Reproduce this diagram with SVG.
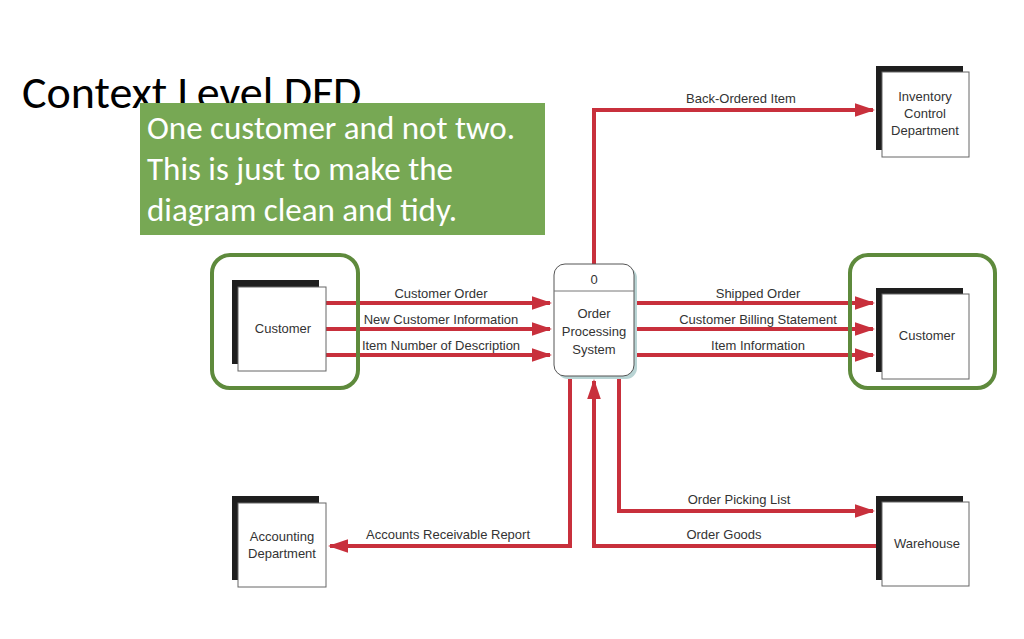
<svg xmlns="http://www.w3.org/2000/svg" width="1024" height="639" viewBox="0 0 1024 639">
<style>
.sh{fill:#1e1e1e}.bx{fill:#fff;stroke:#666;stroke-width:1}
.t{font-family:"Liberation Sans",Arial,sans-serif;font-size:13px;fill:#333;text-anchor:middle}
.l{font-family:"Liberation Sans",Arial,sans-serif;font-size:13px;fill:#333;text-anchor:middle}
.f{fill:none;stroke:#c8303c;stroke-width:4}
.g{fill:none;stroke:#5e8a3c;stroke-width:4}
</style>
<defs><marker id="a" markerWidth="5" markerHeight="4" refX="4.5" refY="2" orient="auto" markerUnits="strokeWidth"><path d="M0,0.3 L5,2 L0,3.7 z" fill="#c8303c"/></marker></defs>
<rect width="1024" height="639" fill="#fff"/>
<text x="22" y="108" font-family="Carlito,'Liberation Sans',sans-serif" font-size="46" fill="#000">Context Level DFD</text>
<g id="connectors">
<path class="f" marker-end="url(#a)" d="M326,303 H550"/>
<path class="f" marker-end="url(#a)" d="M326,329 H550"/>
<path class="f" marker-end="url(#a)" d="M326,355 H550"/>
<path class="f" marker-end="url(#a)" d="M634,303 H873"/>
<path class="f" marker-end="url(#a)" d="M634,329 H873"/>
<path class="f" marker-end="url(#a)" d="M634,355 H873"/>
<path class="f" marker-end="url(#a)" d="M594,264 V110 H873"/>
<path class="f" marker-end="url(#a)" d="M619,376 V511 H873"/>
<path class="f" marker-end="url(#a)" d="M882,546 H594 V381"/>
<path class="f" marker-end="url(#a)" d="M570,376 V546 H330"/>
<text class="l" x="441" y="298">Customer Order</text>
<text class="l" x="441" y="324">New Customer Information</text>
<text class="l" x="441" y="350">Item Number of Description</text>
<text class="l" x="758" y="298">Shipped Order</text>
<text class="l" x="758" y="324">Customer Billing Statement</text>
<text class="l" x="758" y="350">Item Information</text>
<text class="l" x="741" y="103">Back-Ordered Item</text>
<text class="l" x="739" y="504">Order Picking List</text>
<text class="l" x="724" y="539">Order Goods</text>
<text class="l" x="448" y="539">Accounts Receivable Report</text>
</g>
<g id="customer-left"><rect class="sh" x="232" y="280" width="87" height="84"/><rect class="bx" x="238" y="287" width="88" height="84"/><text class="t" x="283" y="333">Customer</text></g>
<g id="inventory"><rect class="sh" x="876" y="66" width="87" height="84"/><rect class="bx" x="882" y="72" width="87" height="85"/><text class="t" x="925" y="101">Inventory</text><text class="t" x="925" y="118">Control</text><text class="t" x="925" y="135">Department</text></g>
<g id="customer-right"><rect class="sh" x="876" y="288" width="87" height="84"/><rect class="bx" x="882" y="294" width="87" height="85"/><text class="t" x="927" y="340">Customer</text></g>
<g id="accounting"><rect class="sh" x="232" y="496" width="87" height="84"/><rect class="bx" x="238" y="503" width="88" height="84"/><text class="t" x="282" y="541">Accounting</text><text class="t" x="282" y="558">Department</text></g>
<g id="warehouse"><rect class="sh" x="876" y="496" width="87" height="84"/><rect class="bx" x="882" y="502" width="87" height="84"/><text class="t" x="927" y="548">Warehouse</text></g>
<g id="process"><rect x="557" y="267" width="80" height="112" rx="11" fill="#b9d4d4"/><rect x="554" y="264" width="80" height="112" rx="11" fill="#fff" stroke="#555" stroke-width="1"/><line x1="554" y1="291" x2="634" y2="291" stroke="#777"/><text class="t" x="594" y="284">0</text><text class="t" x="594" y="318">Order</text><text class="t" x="594" y="336">Processing</text><text class="t" x="594" y="354">System</text></g>
<g id="highlights"><rect class="g" x="212" y="255" width="146" height="133" rx="18"/><rect class="g" x="850" y="255" width="145" height="133" rx="18"/></g>
<g id="callout"><rect x="140" y="103" width="405" height="132" fill="#77a854"/>
<g font-family="Carlito,'Liberation Sans',sans-serif" font-size="33" fill="#fff"><text x="147" y="139">One customer and not two.</text><text x="147" y="180">This is just to make the</text><text x="147" y="221">diagram clean and tidy.</text></g></g>
</svg>
